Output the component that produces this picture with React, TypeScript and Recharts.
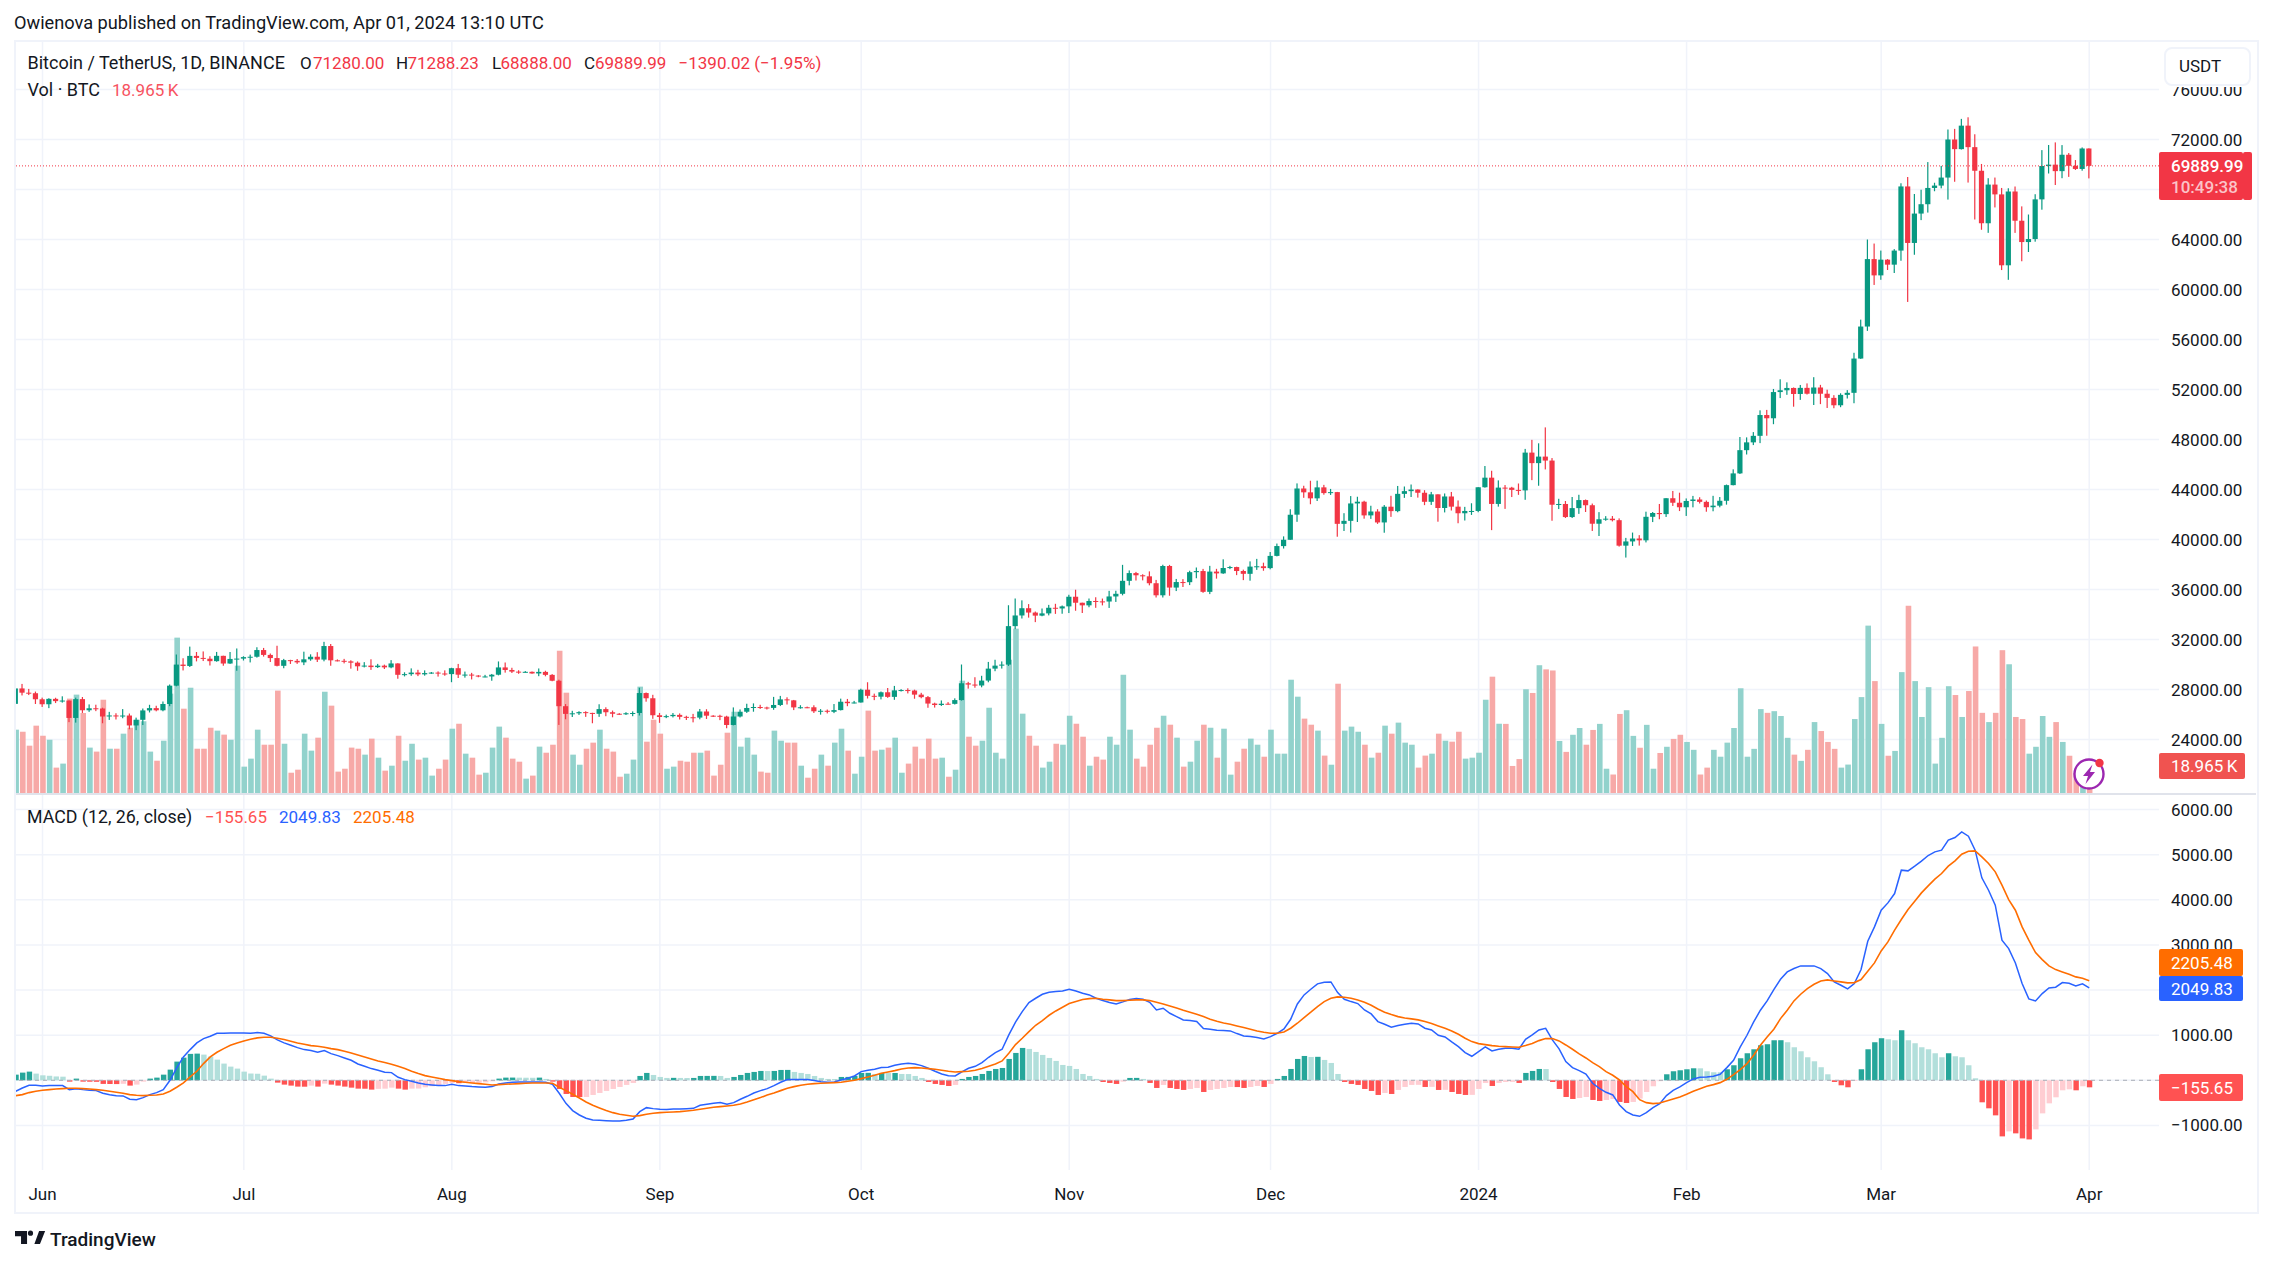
import React from "react";
import { Bar, CartesianGrid, ComposedChart, Line, ReferenceLine, XAxis, YAxis } from "recharts";

// Daily candles, 28 May 2023 to 1 Apr 2024, one row per month
const opens = [
  26851, 28085, 27745, 27702,
  27219, 26820, 27252, 27069, 27116, 25725, 27231, 26339, 26498, 26478, 25842, 25924, 25902, 25918, 25124, 25575, 26327, 26510, 26336, 26841, 28307, 29993, 29884, 30688, 30527, 30462, 30267, 30693, 30078, 30445,
  30472, 30590, 30620, 31156, 30767, 30514, 29895, 30348, 30292, 30171, 30414, 30620, 30392, 31477, 30334, 30295, 30249, 30145, 29856, 29913, 29792, 29908, 29771, 30084, 29176, 29228, 29354, 29212, 29314, 29352, 29281,
  29232, 29705, 29186, 29193, 29114, 29042, 29042, 29183, 29766, 29562, 29430, 29397, 29415, 29283, 29409, 29170, 28701, 26664, 26049, 26096, 26189, 26126, 26056, 26432, 26180, 26060, 26017, 26101, 26120, 27716, 27299,
  25940, 25800, 25868, 25969, 25812, 25780, 25753, 26240, 25905, 25895, 25832, 25162, 25840, 26222, 26522, 26600, 26560, 26527, 26762, 27211, 27133, 26568, 26580, 26579, 26256, 26298, 26217, 26352, 27021, 26906,
  26962, 27983, 27494, 27426, 27778, 27410, 27931, 27956, 27917, 27590, 27390, 26875, 26759, 26862, 26852, 27153, 28500, 28395, 28320, 28713, 29670, 29909, 29992, 33069, 33922, 34502, 34156, 33909, 34089, 34538, 34483,
  34650, 35421, 34941, 34732, 35082, 35049, 35037, 35443, 35656, 36694, 37313, 37138, 37054, 36502, 35537, 37880, 36154, 36596, 36585, 37386, 37476, 35813, 37432, 37289, 37720, 37796, 37479, 37254, 37831, 37858,
  37712, 38688, 39472, 39978, 41987, 44080, 43773, 43293, 44171, 43713, 43792, 41253, 41492, 42884, 43023, 41929, 42240, 41364, 42623, 42270, 43652, 43869, 43997, 43739, 43016, 43613, 42520, 43442, 42627, 42099, 42283,
  42283, 44179, 44946, 42845, 44151, 44145, 43968, 43929, 46951, 46110, 46632, 46314, 42782, 42842, 41796, 42511, 43154, 42742, 41262, 41618, 41665, 41545, 39507, 39845, 40077, 39934, 41816, 42120, 42031, 43302, 42941,
  42580, 43082, 43200, 43011, 42582, 42708, 43098, 44349, 45288, 47147, 47771, 48293, 49958, 49699, 51795, 51939, 52123, 51642, 52131, 51661, 52160, 51662, 51330, 50738, 51571, 51734, 54476, 57037, 62432,
  61130, 62387, 61987, 63113, 68245, 63724, 66074, 66823, 68124, 68313, 68955, 72000, 71229, 73108, 71388, 69499, 65300, 68393, 67609, 61937, 67840, 65501, 63796, 64037, 67211, 69880, 69988, 69469, 70780, 69897, 69645,
  71280,
];
const highs = [
  28261, 28447, 28048, 27834,
  27350, 27300, 27340, 27455, 27129, 27350, 27399, 26808, 26783, 26545, 26212, 26100, 26433, 26078, 25749, 26478, 26777, 26700, 27040, 28400, 30800, 30500, 31431, 31000, 31046, 30662, 31006, 30703, 31000, 31282,
  30660, 30790, 31380, 31326, 30880, 31500, 30449, 30377, 30440, 31026, 30813, 30985, 31814, 31640, 30408, 30450, 30337, 30244, 30189, 30417, 30050, 29990, 30350, 30100, 29376, 29690, 29575, 29530, 29400, 29449, 29530,
  29739, 30047, 29433, 29333, 29152, 29171, 29244, 30244, 30160, 29739, 29540, 29473, 29440, 29683, 29500, 29232, 28783, 26834, 26296, 26260, 26258, 26139, 26819, 26577, 26314, 26111, 26182, 26249, 28142, 27760, 27576,
  26125, 25989, 26118, 26087, 25900, 26050, 26443, 26423, 25945, 25979, 25900, 26567, 26405, 26860, 26888, 26777, 26627, 27409, 27488, 27377, 27165, 26743, 26632, 26738, 26432, 26397, 26837, 27268, 27245, 27089,
  28065, 28580, 27669, 27839, 28120, 28287, 28029, 28095, 27987, 27735, 27479, 26947, 27124, 26989, 27293, 30000, 28613, 28982, 29097, 30207, 30379, 30248, 34741, 35280, 35132, 34832, 34238, 34480, 34770, 34856, 34720,
  35579, 35984, 34946, 35280, 35380, 35276, 35892, 35900, 37972, 37526, 37408, 37222, 37450, 36767, 37980, 37969, 36845, 36832, 37500, 37760, 37649, 37892, 37653, 38415, 37892, 37824, 37589, 38250, 38450, 38145,
  38999, 39675, 40250, 42420, 44488, 44300, 44700, 44708, 44371, 44047, 43808, 42104, 43475, 43420, 43100, 42700, 42424, 42757, 43497, 44283, 44240, 44400, 44015, 43946, 43808, 43613, 43683, 43804, 43124, 42612, 42899,
  44184, 45879, 45500, 44729, 44357, 44214, 44480, 47248, 47972, 47695, 48969, 46515, 43257, 43079, 43400, 43578, 43198, 42876, 42191, 41869, 41876, 41689, 40129, 40555, 40348, 42225, 42200, 42842, 43305, 43882, 43745,
  43285, 43488, 43380, 43119, 43494, 43399, 44396, 45614, 48200, 48170, 48592, 50334, 50368, 52043, 52816, 52572, 52162, 52364, 52488, 52985, 52371, 51985, 51548, 51698, 51950, 54938, 57588, 64000, 63676,
  63114, 62433, 63231, 68499, 69000, 67641, 67980, 70194, 68541, 69887, 72800, 72850, 73650, 73777, 72419, 70043, 68904, 68956, 68124, 68100, 68240, 66650, 65999, 67622, 71150, 71561, 71769, 71552, 70916, 70355, 71366,
  71288,
];
const lows = [
  26765, 27524, 27555, 26841,
  26605, 26510, 26916, 26951, 25388, 25351, 26123, 26210, 26269, 25300, 25566, 25602, 25700, 24820, 24750, 25158, 26165, 26255, 26258, 26665, 28257, 29525, 29800, 30250, 30277, 29919, 30224, 29900, 30050, 29500,
  30320, 30166, 30550, 30633, 30200, 29850, 29701, 30045, 30050, 29950, 30300, 30200, 30255, 29900, 30250, 30090, 29667, 29500, 29767, 29570, 29720, 29640, 29700, 28861, 29047, 29096, 29072, 29107, 29256, 29033, 29101,
  28585, 28920, 28950, 28806, 28978, 28981, 28701, 29130, 29350, 29320, 29257, 29359, 29260, 29065, 29056, 28660, 25166, 25619, 25801, 25966, 25812, 25300, 25812, 25864, 25777, 25971, 25966, 25864, 25922, 27025, 25655,
  25333, 25708, 25766, 25600, 25562, 25372, 25615, 25644, 25800, 25550, 24901, 25131, 25764, 26126, 26224, 26445, 26399, 26377, 26674, 26800, 26353, 26468, 26509, 26122, 25990, 26087, 26112, 26325, 26665, 26886,
  26954, 27280, 27150, 27210, 27333, 27175, 27842, 27687, 27260, 27298, 26538, 26555, 26685, 26810, 26800, 27112, 28069, 28142, 28175, 28578, 29464, 29675, 29883, 32832, 33679, 33750, 33390, 33860, 33930, 34050, 34062,
  34117, 34300, 34120, 34582, 34534, 34730, 34525, 35007, 35534, 36333, 36719, 36731, 36333, 35360, 35360, 35500, 35875, 36200, 36353, 36900, 35735, 35632, 36870, 37251, 37627, 37150, 36750, 36706, 37570, 37500,
  37615, 38650, 39278, 39978, 41414, 43335, 42821, 43081, 43584, 43565, 40222, 40680, 40555, 41400, 41666, 41650, 41250, 40542, 41811, 42180, 43330, 43400, 43351, 42749, 42765, 41424, 42167, 42318, 41300, 41520, 41965,
  42181, 44148, 40750, 42629, 42450, 43397, 43572, 43175, 44748, 44300, 45606, 41500, 42436, 41720, 41718, 42050, 42200, 40683, 40280, 41500, 41446, 39431, 38555, 39484, 39511, 39767, 41395, 41620, 41804, 42683, 42276,
  41884, 42574, 42880, 42222, 42258, 42574, 42788, 44331, 45242, 46800, 47554, 47710, 48300, 49225, 51314, 51574, 50625, 51170, 51600, 50760, 50831, 50521, 50500, 50585, 51280, 50901, 54450, 56691, 60364,
  60777, 61561, 61320, 62300, 59005, 62779, 65551, 66154, 67861, 68094, 67194, 68620, 71200, 68555, 65600, 64780, 64533, 66565, 61555, 60775, 64529, 62260, 63000, 63825, 66385, 69280, 68359, 68903, 69009, 69562, 69504,
  68888,
];
const closes = [
  28085, 27745, 27702, 27219,
  26820, 27252, 27069, 27116, 25725, 27230, 26339, 26498, 26477, 25841, 25924, 25902, 25918, 25124, 25575, 26327, 26510, 26336, 26841, 28307, 29993, 29884, 30688, 30527, 30462, 30267, 30693, 30078, 30445, 30472,
  30590, 30620, 31156, 30767, 30514, 29895, 30348, 30292, 30171, 30414, 30620, 30392, 31477, 30334, 30295, 30249, 30145, 29856, 29913, 29792, 29908, 29771, 30084, 29176, 29228, 29354, 29212, 29314, 29352, 29281, 29232,
  29705, 29186, 29193, 29114, 29042, 29043, 29183, 29766, 29562, 29430, 29397, 29415, 29283, 29409, 29170, 28701, 26664, 26049, 26096, 26189, 26126, 26056, 26432, 26180, 26060, 26017, 26101, 26120, 27716, 27299, 25940,
  25800, 25868, 25969, 25812, 25780, 25753, 26240, 25905, 25895, 25832, 25162, 25840, 26222, 26522, 26600, 26560, 26527, 26762, 27211, 27133, 26568, 26580, 26579, 26256, 26298, 26217, 26352, 27021, 26906, 26962,
  27983, 27494, 27426, 27778, 27410, 27931, 27956, 27917, 27590, 27390, 26875, 26759, 26862, 26852, 27153, 28500, 28395, 28320, 28713, 29670, 29909, 29992, 33069, 33922, 34502, 34156, 33909, 34089, 34538, 34483, 34650,
  35421, 34941, 34732, 35082, 35049, 35037, 35443, 35656, 36694, 37313, 37138, 37054, 36502, 35537, 37880, 36154, 36596, 36585, 37386, 37476, 35813, 37432, 37289, 37720, 37796, 37479, 37254, 37831, 37858, 37712,
  38688, 39476, 39978, 41980, 44080, 43773, 43293, 44170, 43713, 43789, 41253, 41492, 42884, 43023, 41929, 42240, 41364, 42623, 42270, 43652, 43869, 43997, 43739, 43016, 43613, 42520, 43442, 42627, 42099, 42283, 42283,
  44179, 44946, 42845, 44151, 44145, 43968, 43929, 46951, 46110, 46632, 46314, 42782, 42842, 41796, 42511, 43154, 42742, 41262, 41618, 41665, 41545, 39507, 39845, 40077, 39934, 41816, 42120, 42031, 43302, 42941, 42580,
  43082, 43200, 43011, 42582, 42708, 43098, 44349, 45288, 47147, 47771, 48293, 49958, 49699, 51795, 51939, 52123, 51642, 52131, 51661, 52160, 51662, 51330, 50738, 51571, 51734, 54476, 57037, 62432, 61130,
  62387, 61987, 63113, 68245, 63724, 66074, 66823, 68124, 68313, 68955, 72000, 71229, 73108, 71388, 69499, 65300, 68393, 67609, 61937, 67840, 65501, 63796, 64037, 67211, 69880, 69988, 69469, 70780, 69897, 69645, 71280,
  69889.99,
];
// Volume in thousands of BTC
const volumes = [
  45.9, 44.4, 34.3, 48.8, 41.5, 38.6, 18.4, 21.3, 68.4, 71.3, 58, 32.9, 30, 67.6, 32.1, 32.1, 43, 47.3, 53.1, 52,
  30, 23.4, 37.9, 72, 112.6, 61.1, 76.3, 32.1, 32.1, 47.3, 45.2, 42.3, 38.6, 92.3, 19.1, 24.9, 45.9, 35, 35, 74.2,
  35.7, 14.7, 16.9, 43, 30.7, 40.1, 73.4, 63.3, 15.5, 17.6, 32.9, 32.1, 27.8, 39.4, 25.6, 16.2, 19.8, 41.5, 23.4, 35.7,
  24.2, 25.6, 12.6, 17.6, 24.2, 46.6, 50.2, 28.5, 25.6, 13.3, 14.7, 32.9, 48.1, 40.1, 24.9, 22.7, 10.4, 12.6, 33.6, 29.2,
  35, 103.1, 72.7, 27.8, 20.5, 32.1, 36.5, 45.9, 32.1, 30, 11.8, 14, 24.2, 77.1, 37.2, 53.1, 43, 17.6, 19.1, 23.4,
  22.7, 29.2, 29.2, 30.7, 12.6, 20.5, 43.7, 58.9, 33.6, 40.1, 27.8, 15.5, 14.7, 45.2, 37.9, 36.5, 36.5, 19.8, 11.1, 17.6,
  27.8, 19.8, 36.5, 46.6, 30.7, 14, 26.3, 59.7, 30.7, 31.4, 32.9, 40.1, 14.7, 21.3, 33.6, 24.9, 39.4, 24.9, 25.6, 11.8,
  16.9, 81.4, 40.8, 34.3, 37.9, 61.8, 29.2, 24.9, 96.6, 119.1, 57.5, 41.5, 34.3, 18.4, 22.7, 35.7, 35, 56, 50.2, 40.8,
  19.8, 26.3, 24.2, 40.8, 35, 85.7, 45.9, 24.9, 19.1, 35, 47.3, 56, 49.5, 40.1, 19.1, 22.7, 37.9, 49.5, 47.3, 25.6,
  46.6, 13.3, 22.7, 32.1, 39.4, 35, 26.3, 45.9, 28.5, 28.5, 82.1, 69.8, 53.9, 49.5, 45.2, 27.1, 20.5, 79.2, 45.2, 48.1,
  44.4, 35, 25.6, 29.2, 48.8, 43, 51, 36.5, 35, 18.4, 27.1, 28.5, 43, 37.9, 37.2, 44.4, 24.9, 25.6, 29.2, 67.6,
  84.3, 50.2, 50.1, 19.6, 24.6, 75.2, 72.5, 92.6, 89.6, 88.8, 37.7, 29.8, 42.2, 47.1, 35, 45.7, 50.1, 17.6, 13.4, 57.3,
  60, 41.4, 32.8, 49.4, 17.6, 29, 33.5, 39.2, 42.2, 37, 31.3, 13.4, 18.4, 31.3, 26.3, 36.5, 47.1, 75.9, 26.3, 32,
  60.8, 58.1, 59.3, 55.8, 40, 27.8, 23.3, 31.3, 51.4, 44.9, 37, 32, 18.4, 20.6, 53.6, 69.5, 121.3, 81.1, 50.1, 27,
  30.5, 87.6, 135.7, 81.1, 55.1, 76.7, 21.3, 40, 77.4, 71, 55.1, 73.9, 106.2, 58.1, 51.4, 58.1, 103.5, 93.3, 55.1, 53.6,
  28.5, 33.5, 55.8, 40.7, 51.4, 37, 27, 14.6, 18, 18.965,
];
const macdLine = [
  -244, -170, -111, -111, -126, -118, -118, -118, -207, -185, -207, -222, -229, -288, -318, -340, -347, -421, -429, -384,
  -318, -273, -207, 0, 273, 517, 680, 828, 924, 975, 1042, 1042, 1049, 1049, 1049, 1042, 1057, 1042, 983, 894,
  828, 776, 724, 680, 658, 621, 658, 591, 547, 495, 443, 362, 310, 259, 222, 177, 170, 67, 15, -22,
  -59, -89, -103, -118, -118, -89, -118, -126, -140, -148, -155, -140, -81, -59, -44, -37, -37, -37, -37, -44,
  -89, -288, -510, -672, -769, -842, -879, -887, -894, -902, -902, -887, -857, -695, -606, -628, -643, -650, -636, -636,
  -628, -621, -554, -532, -510, -495, -532, -495, -421, -355, -281, -229, -185, -118, -44, 15, 15, 15, 15, -7,
  -30, -44, -37, 7, 44, 96, 192, 222, 244, 281, 288, 333, 362, 377, 362, 325, 266, 200, 140, 103,
  96, 185, 266, 310, 392, 510, 613, 687, 1005, 1290, 1522, 1722, 1818, 1906, 1950, 1965, 1980, 2017, 1980, 1928,
  1892, 1818, 1766, 1722, 1692, 1737, 1788, 1811, 1796, 1729, 1559, 1596, 1485, 1411, 1338, 1323, 1301, 1145, 1131, 1108,
  1101, 1094, 1035, 983, 968, 946, 916, 968, 1042, 1138, 1352, 1692, 1892, 2017, 2136, 2173, 2180, 1944, 1796, 1744,
  1700, 1559, 1471, 1301, 1242, 1175, 1212, 1242, 1264, 1249, 1153, 1116, 998, 961, 850, 746, 613, 532, 636, 739,
  650, 687, 709, 709, 687, 909, 1005, 1116, 1153, 894, 695, 414, 281, 214, 140, -67, -177, -266, -325, -547,
  -695, -769, -798, -717, -606, -517, -340, -222, -148, -52, 30, 67, 74, 89, 133, 281, 443, 739, 998, 1293,
  1552, 1759, 2010, 2239, 2402, 2476, 2535, 2535, 2535, 2476, 2365, 2180, 2106, 2025, 2143, 2454, 3082, 3399, 3769, 3931,
  4138, 4656, 4641, 4744, 4855, 4981, 5062, 5099, 5321, 5380, 5506, 5409, 5099, 4486, 4212, 3880, 3104, 2919, 2601, 2143,
  1803, 1759, 1921, 2047, 2062, 2165, 2150, 2091, 2136, 2049.83,
];
const signalLine = [
  -340, -318, -273, -244, -222, -207, -192, -185, -177, -177, -185, -192, -207, -222, -244, -266, -288, -318, -333, -340,
  -333, -325, -303, -244, -155, -59, 74, 200, 370, 517, 621, 702, 776, 828, 872, 909, 939, 953, 953, 931,
  902, 865, 828, 798, 769, 754, 732, 702, 680, 643, 606, 562, 517, 473, 429, 392, 355, 310, 259, 200,
  148, 103, 74, 44, 15, -7, -30, -44, -59, -74, -89, -103, -96, -89, -81, -74, -67, -59, -59, -59,
  -67, -155, -229, -310, -392, -480, -554, -613, -672, -717, -754, -776, -798, -783, -754, -732, -717, -709, -702, -695,
  -680, -665, -643, -621, -599, -584, -569, -554, -525, -480, -429, -384, -325, -281, -229, -177, -140, -111, -89, -74,
  -67, -59, -52, -44, -22, 0, 37, 74, 111, 155, 185, 214, 251, 273, 281, 273, 259, 244, 222, 200,
  185, 192, 200, 222, 259, 310, 362, 429, 599, 791, 931, 1079, 1219, 1323, 1441, 1537, 1618, 1700, 1744, 1790,
  1810, 1818, 1796, 1781, 1766, 1766, 1774, 1781, 1781, 1766, 1729, 1692, 1648, 1604, 1552, 1508, 1463, 1411, 1352, 1308,
  1271, 1242, 1205, 1168, 1131, 1094, 1064, 1042, 1042, 1072, 1153, 1264, 1389, 1508, 1633, 1744, 1818, 1848, 1840, 1818,
  1781, 1729, 1663, 1581, 1508, 1456, 1411, 1382, 1360, 1338, 1301, 1256, 1205, 1153, 1094, 1020, 931, 857, 813, 791,
  769, 754, 746, 739, 732, 769, 813, 879, 924, 924, 872, 783, 687, 584, 495, 392, 303, 192, 111, 7,
  -140, -251, -429, -495, -517, -503, -458, -414, -370, -310, -244, -185, -133, -96, -52, 22, 126, 236, 370, 554,
  776, 961, 1131, 1367, 1552, 1759, 1907, 2032, 2128, 2202, 2224, 2202, 2180, 2158, 2165, 2232, 2417, 2601, 2867, 3067,
  3326, 3562, 3784, 3968, 4153, 4308, 4456, 4582, 4744, 4863, 5010, 5077, 5084, 4951, 4804, 4619, 4323, 4005, 3769, 3399,
  3104, 2830, 2675, 2535, 2453, 2402, 2350, 2291, 2261, 2205.48,
];
const histogram = [
  125, 170, 192, 148, 110, 100, 85, 80, -30, 37, -30, -32, -34, -80, -82, -84, -78, -118, -96, -30,
  37, 59, 125, 236, 414, 502, 585, 591, 569, 525, 458, 370, 303, 259, 192, 150, 145, 103, 37, -52,
  -96, -118, -140, -142, -118, -140, -74, -96, -118, -140, -163, -185, -187, -207, -190, -186, -163, -185, -207, -185,
  -183, -155, -133, -118, -80, -60, -65, -60, -58, -56, -45, -22, 37, 59, 60, 58, 57, 56, 59, 30,
  -30, -192, -303, -370, -372, -370, -325, -281, -236, -192, -148, -103, -59, 96, 163, 118, 74, 52, 54, 52,
  50, 52, 96, 97, 98, 96, 52, 74, 118, 163, 185, 207, 205, 207, 229, 230, 185, 163, 140, 96,
  52, 30, 28, 74, 75, 96, 163, 165, 140, 163, 160, 162, 140, 138, 96, 52, -37, -81, -103, -126,
  -103, 30, 74, 96, 140, 207, 251, 273, 473, 606, 717, 695, 628, 562, 495, 429, 340, 318, 251, 140,
  96, 30, -37, -59, -81, -30, 52, 53, 30, -59, -170, -103, -170, -192, -214, -192, -170, -259, -214, -192,
  -170, -148, -150, -170, -148, -126, -148, -81, 30, 96, 251, 473, 539, 517, 520, 451, 384, 140, -37, -81,
  -103, -192, -236, -325, -281, -303, -214, -148, -103, -101, -148, -146, -214, -212, -259, -303, -325, -323, -192, -59,
  -126, -59, -37, -35, -59, 163, 207, 251, 250, -37, -192, -370, -414, -392, -370, -436, -458, -436, -414, -480,
  -503, -480, -406, -259, -133, -20, 133, 200, 222, 244, 266, 265, 200, 178, 177, 244, 333, 488, 599, 687,
  776, 799, 887, 888, 843, 732, 643, 510, 421, 289, 133, -37, -111, -155, -15, 244, 687, 843, 932, 909,
  887, 1109, 887, 821, 732, 687, 599, 510, 599, 532, 510, 333, 44, -488, -621, -777, -1243, -1132, -1176, -1288,
  -1310, -1088, -733, -511, -377, -222, -200, -222, -133, -155.65,
];

const monthTicks = [4, 34, 65, 96, 126, 157, 187, 218, 249, 278, 309];
const monthNames = ["Jun", "Jul", "Aug", "Sep", "Oct", "Nov", "Dec", "2024", "Feb", "Mar", "Apr"];
const priceTicks = [76000, 72000, 68000, 64000, 60000, 56000, 52000, 48000, 44000, 40000, 36000, 32000, 28000, 24000];
const macdTicks = [6000, 5000, 4000, 3000, 2000, 1000, 0, -1000];

const FONT = "Roboto, 'Noto Sans', sans-serif";
const INK = "#131722";
const UP = "#089981";
const DOWN = "#F23645";
const GRID = "#F0F3FA";
const X_DOMAIN: [number, number] = [0.05, 319.4];

const rows = closes.map((close, i) => ({
  i,
  open: opens[i],
  high: highs[i],
  low: lows[i],
  close,
  volume: volumes[i],
  macd: macdLine[i],
  signal: signalLine[i],
  hist: histogram[i],
  prevHist: i > 0 ? histogram[i - 1] : 0,
}));

function Candle(props: any) {
  const { x, y, width, height, payload } = props;
  const { open, high, low, close } = payload;
  const perUnit = height / (high - low);
  const top = y + (high - Math.max(open, close)) * perUnit;
  const bodyH = Math.max(1, Math.abs(open - close) * perUnit);
  const color = close >= open ? UP : DOWN;
  const cx = x + width / 2;
  return (
    <g>
      <rect x={cx - 0.6} y={y} width={1.2} height={height} fill={color} />
      <rect x={cx - 2.6} y={top} width={5.2} height={bodyH} fill={color} />
    </g>
  );
}

function VolumeBar(props: any) {
  const { x, y, width, height, payload } = props;
  return <rect x={x} y={y} width={width} height={height} fill={payload.close >= payload.open ? "#92D2CC" : "#F7A9A7"} />;
}

function histColor(v: number, prev: number) {
  if (v >= 0) return v >= prev ? "#26A69A" : "#B2DFDB";
  return v <= prev ? "#FF5252" : "#FFCDD2";
}

function HistBar(props: any) {
  const { x, y, width, height, payload } = props;
  const top = height < 0 ? y + height : y;
  return <rect x={x} y={top} width={width} height={Math.abs(height)} fill={histColor(payload.hist, payload.prevHist)} />;
}

function T({ x, y, color = INK, size = 17, weight = 400, children }: any) {
  return (
    <div
      style={{
        position: "absolute",
        left: x,
        top: y,
        transform: "translateY(-50%)",
        fontFamily: FONT,
        fontSize: size,
        fontWeight: weight,
        color,
        lineHeight: 1,
        whiteSpace: "nowrap",
      }}
    >
      {children}
    </div>
  );
}

function Box({ top, height, bg }: any) {
  return <div style={{ position: "absolute", left: 2159, top, width: 84, height, background: bg, borderRadius: 2 }} />;
}

const fmtAxis = (v: number) => (v < 0 ? "\u2212" : "") + Math.abs(v).toFixed(2);
const tickStyle = { fill: INK, fontSize: 17, fontFamily: FONT };

export default function App() {
  return (
    <div style={{ position: "absolute", left: 0, top: 0, width: 2273, height: 1265, background: "#fff", overflow: "hidden" }}>
      <T x={14} y={23} size={18.2}>Owienova published on TradingView.com, Apr 01, 2024 13:10 UTC</T>

      <div style={{ position: "absolute", left: 0, top: 0 }}>
        <div style={{ position: "absolute", left: 16, top: 41 }}>
          <ComposedChart width={2239} height={752} data={rows} margin={{ top: 0, right: 0, bottom: 0, left: 0 }}>
            <XAxis xAxisId="p" dataKey="i" type="number" domain={X_DOMAIN} allowDataOverflow ticks={monthTicks} hide />
            <XAxis xAxisId="v" dataKey="i" type="number" domain={X_DOMAIN} allowDataOverflow ticks={monthTicks} hide />
            <YAxis
              yAxisId="price"
              orientation="right"
              width={96}
              domain={[19720, 79880]}
              allowDataOverflow
              ticks={priceTicks}
              interval={0}
              tickFormatter={fmtAxis}
              axisLine={false}
              tickLine={false}
              tickSize={0}
              tickMargin={12}
              tick={tickStyle}
            />
            <YAxis yAxisId="vol" hide domain={[0, 545]} allowDataOverflow />
            <CartesianGrid xAxisId="p" yAxisId="price" stroke={GRID} strokeWidth={1.5} syncWithTicks />
            <Bar xAxisId="v" yAxisId="vol" dataKey="volume" barSize={5.6} shape={VolumeBar} isAnimationActive={false} />
            <Bar
              xAxisId="p"
              yAxisId="price"
              dataKey={(d: any) => [d.low, d.high]}
              barSize={6}
              shape={Candle}
              isAnimationActive={false}
            />
            <ReferenceLine xAxisId="p" yAxisId="price" y={closes[closes.length - 1]} stroke={DOWN} strokeDasharray="1 2" />
          </ComposedChart>
        </div>

        <div style={{ position: "absolute", left: 16, top: 794 }}>
          <ComposedChart width={2239} height={418} data={rows} margin={{ top: 0, right: 0, bottom: 0, left: 0 }}>
            <XAxis
              dataKey="i"
              type="number"
              domain={X_DOMAIN}
              allowDataOverflow
              ticks={monthTicks}
              interval={0}
              height={42}
              tickFormatter={(v: number) => monthNames[monthTicks.indexOf(v)]}
              axisLine={false}
              tickLine={false}
              tickSize={0}
              tickMargin={18}
              tick={tickStyle}
            />
            <YAxis
              orientation="right"
              width={96}
              domain={[-1988, 6344]}
              allowDataOverflow
              ticks={macdTicks}
              interval={0}
              tickFormatter={fmtAxis}
              axisLine={false}
              tickLine={false}
              tickSize={0}
              tickMargin={12}
              tick={tickStyle}
            />
            <CartesianGrid stroke={GRID} strokeWidth={1.5} syncWithTicks />
            <ReferenceLine y={0} stroke="#A9ACB5" strokeDasharray="4 4" />
            <Bar dataKey="hist" barSize={5.4} shape={HistBar} isAnimationActive={false} />
            <Line dataKey="macd" stroke="#2962FF" strokeWidth={1.5} dot={false} isAnimationActive={false} />
            <Line dataKey="signal" stroke="#FF6D00" strokeWidth={1.6} dot={false} isAnimationActive={false} />
          </ComposedChart>
        </div>
      </div>

      {/* frame */}
      <div style={{ position: "absolute", left: 14, top: 39.5, width: 2241, height: 1170, border: `2px solid ${GRID}` }} />
      <div style={{ position: "absolute", left: 16, top: 792.5, width: 2240, height: 2, background: "#E0E3EB" }} />

      {/* legends */}
      <T x={27.5} y={63} size={18}>Bitcoin / TetherUS, 1D, BINANCE</T>
      <T x={300} y={63}>O</T>
      <T x={313} y={63} color={DOWN}>71280.00</T>
      <T x={396} y={63}>H</T>
      <T x={407.5} y={63} color={DOWN}>71288.23</T>
      <T x={492} y={63}>L</T>
      <T x={500.5} y={63} color={DOWN}>68888.00</T>
      <T x={584} y={63}>C</T>
      <T x={595} y={63} color={DOWN}>69889.99</T>
      <T x={678.5} y={63} color={DOWN}>{"\u22121390.02 (\u22121.95%)"}</T>
      <T x={27.5} y={90} size={18}>{"Vol \u00b7 BTC"}</T>
      <T x={112} y={90} color="#F7525F">{"18.965\u2009K"}</T>

      <T x={27} y={817} size={17.8}>MACD (12, 26, close)</T>
      <T x={205} y={817} color="#FF5252">{"\u2212155.65"}</T>
      <T x={279} y={817} color="#2962FF">2049.83</T>
      <T x={353} y={817} color="#FF6D00">2205.48</T>

      {/* currency button: it masks the top of the 76000.00 tick, as in the reference */}
      <div style={{ position: "absolute", left: 2160, top: 42, width: 94, height: 45, background: "#fff" }} />
      <div
        style={{
          position: "absolute",
          left: 2164,
          top: 47,
          width: 83,
          height: 35,
          background: "#fff",
          border: `2px solid ${GRID}`,
          borderRadius: 8,
        }}
      />
      <T x={2179} y={65.5}>USDT</T>

      {/* last-value labels */}
      <Box top={152} height={48} bg={DOWN} />
      <div style={{ position: "absolute", left: 2243, top: 152, width: 9, height: 48, background: DOWN, borderRadius: 2 }} />
      <T x={2171} y={165.5} color="#fff" weight={500}>69889.99</T>
      <T x={2171} y={187} color="#FBC3C8" weight={500}>10:49:38</T>

      <div style={{ position: "absolute", left: 2159, top: 753, width: 86, height: 26, background: "#F05350", borderRadius: 2 }} />
      <T x={2171} y={766} color="#fff">{"18.965\u2009K"}</T>

      <Box top={949} height={27} bg="#FF6D00" />
      <T x={2171} y={962.5} color="#fff">2205.48</T>
      <Box top={976} height={25} bg="#2962FF" />
      <T x={2171} y={988.5} color="#fff">2049.83</T>
      <Box top={1074} height={27} bg="#FF5252" />
      <T x={2171} y={1087.5} color="#fff">{"\u2212155.65"}</T>

      {/* alert badge */}
      <svg style={{ position: "absolute", left: 2070, top: 755 }} width="38" height="38" viewBox="0 0 38 38">
        <circle cx="19" cy="19" r="14.5" fill="#fff" stroke="#9C27B0" strokeWidth="2.4" />
        <path d="M22.5 9.5 13 21h5l-2.5 8 9.5-12h-5z" fill="#9C27B0" />
        <circle cx="29.5" cy="8" r="4.2" fill="#F23645" />
      </svg>

      {/* brand */}
      <svg style={{ position: "absolute", left: 15, top: 1230 }} width="31" height="15" viewBox="0 6 36 15">
        <path d="M14 6H0v6h7v9h7V6Zm15 15h-6.5l5.5-15h7l-6 15ZM18 11.5a3 3 0 1 0 0-6 3 3 0 0 0 0 6Z" fill={INK} />
      </svg>
      <T x={50} y={1239} size={19} weight={500}>TradingView</T>
    </div>
  );
}
